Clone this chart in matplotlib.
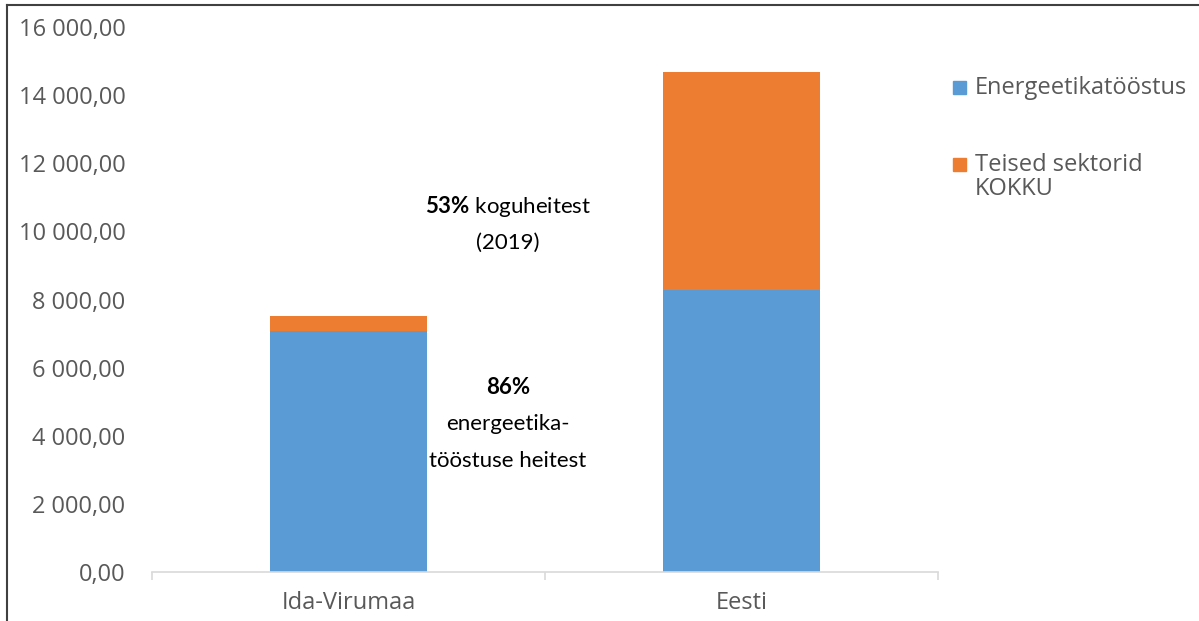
import matplotlib.pyplot as plt
from matplotlib.patches import Rectangle
from matplotlib.lines import Line2D

plt.rcParams['font.family'] = ['Open Sans', 'DejaVu Sans']
plt.rcParams['mathtext.fontset'] = 'custom'
plt.rcParams['mathtext.rm'] = 'Lato'
plt.rcParams['mathtext.bf'] = 'Lato:bold'

# andmed (kt CO2 ekv)
regions = ['Ida-Virumaa', 'Eesti']
energeetika = [7070, 8280]
teised = [445, 6390]
series_labels = ['Energeetikatööstus', 'Teised sektorid', 'KOKKU']
yticks = [0, 2000, 4000, 6000, 8000, 10000, 12000, 14000, 16000]

blue = '#5B9BD5'
orange = '#ED7D31'
gray = '#595959'
W, H = 1199, 621

fig = plt.figure(figsize=(11.99, 6.21), dpi=100)
ax = fig.add_axes([152 / W, 1 - 572 / H, (938 - 152) / W, (572 - 27) / H])

x = list(range(len(regions)))
ax.bar(x, energeetika, width=0.4, color=blue)
ax.bar(x, teised, width=0.4, bottom=energeetika, color=orange)

ax.set_xlim(-0.5, 1.5)
ax.set_ylim(0, 16000)
ax.set_yticks(yticks)
ax.set_yticklabels([f'{v:,.2f}'.replace(',', ' ').replace('.', ',') for v in yticks])
ax.tick_params(axis='y', length=0, pad=19, labelsize=17, labelcolor=gray)
ax.set_xticks(x)
ax.set_xticklabels(regions)
ax.tick_params(axis='x', length=0, pad=14, labelsize=17, labelcolor=gray)
ax.set_xticks([-0.5, 0.5, 1.5], minor=True)
ax.tick_params(axis='x', which='minor', length=6, color='#d9d9d9', width=1.2)

for s in ['top', 'right', 'left']:
    ax.spines[s].set_visible(False)
ax.spines['bottom'].set_color('#d9d9d9')
ax.spines['bottom'].set_linewidth(1.2)

# tekstid
ann = dict(fontsize=16, family='Lato', ha='center', va='center', color='black')
cx = 508 / W
fig.text(cx, 1 - 207 / H, r'$\mathbf{53\%}$ koguheitest', **ann)
fig.text(cx, 1 - 243 / H, '(2019)', **ann)
fig.text(cx, 1 - 387 / H, '86%', fontweight='bold', **ann)
fig.text(cx, 1 - 424 / H, 'energeetika-', **ann)
fig.text(cx, 1 - 461 / H, 'tööstuse heitest', **ann)

# legend
fig.patches.append(Rectangle((953 / W, 1 - 94 / H), 13 / W, 13 / H,
                             transform=fig.transFigure, color=blue))
fig.text(975 / W, 1 - 94 / H, series_labels[0], fontsize=17, color=gray, va='baseline')
fig.patches.append(Rectangle((953 / W, 1 - 171 / H), 13 / W, 13 / H,
                             transform=fig.transFigure, color=orange))
fig.text(975 / W, 1 - 171 / H, series_labels[1], fontsize=17, color=gray, va='baseline')
fig.text(975 / W, 1 - 195 / H, series_labels[2], fontsize=17, color=gray, va='baseline')

# raam
fig.add_artist(Line2D([7 / W, 7 / W], [0, 1 - 5 / H], transform=fig.transFigure, color='#404040', lw=1.5))
fig.add_artist(Line2D([7 / W, 1], [1 - 5 / H, 1 - 5 / H], transform=fig.transFigure, color='#404040', lw=1.5))

fig.savefig('out.png', dpi=100)
